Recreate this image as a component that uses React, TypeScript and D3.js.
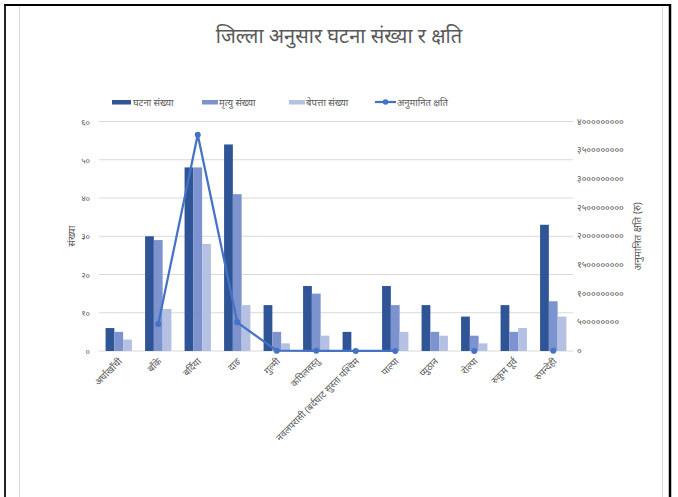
import * as d3 from "d3";

const districts = [
  "अर्घाखाँची",
  "बाँके",
  "बर्दिया",
  "दाङ",
  "गुल्मी",
  "कपिलवस्तु",
  "नवलपरासी (बर्दघाट सुस्ता पश्चिम",
  "पाल्पा",
  "प्युठान",
  "रोल्पा",
  "रुकुम पूर्व",
  "रुपन्देही",
];
const incidents = [6, 30, 48, 54, 12, 17, 5, 17, 12, 9, 12, 33];
const deaths = [5, 29, 48, 41, 5, 15, 0, 12, 5, 4, 5, 13];
const missing = [3, 11, 28, 12, 2, 4, 0, 5, 4, 2, 6, 9];
const loss: (number | null)[] = [
  null, 470000000, 3770000000, 500000000, 6000000, 3000000, 1000000, 2000000, null, 1500000, null, 4000000,
];
const seriesNames = ["घटना संख्या", "मृत्यु संख्या", "बेपत्ता संख्या"];
const lineName = "अनुमानित क्षति";
const leftTicks = [0, 10, 20, 30, 40, 50, 60];
const rightTicks = [0, 500000000, 1000000000, 1500000000, 2000000000, 2500000000, 3000000000, 3500000000, 4000000000];

const COLORS = ["#2F5597", "#7C93CF", "#B4C1E2"];
const LINE = "#4472C4";
const TXT = "#595959";
const FONT = "'Noto Sans', sans-serif";

const W = 678;
const H = 497;
const plot = { left: 99, right: 573, top: 121.5, bottom: 351 };

const toDev = (s: string) => s.replace(/[0-9]/g, (c) => "०१२३४५६७८९"[+c]);

export default function App() {
  const x = d3.scaleBand<string>().domain(districts).range([plot.left, plot.right]).paddingInner(0).paddingOuter(0);
  const group = (x.bandwidth() * 3) / 4.5;
  const xs = d3.scaleBand<number>().domain([0, 1, 2]).range([0, group]);
  const y = d3.scaleLinear().domain([0, 60]).range([plot.bottom, plot.top]);
  const yR = d3.scaleLinear().domain([0, 4000000000]).range([plot.bottom, plot.top]);
  const cx = (d: string) => (x(d) ?? 0) + x.bandwidth() / 2;

  const line = d3
    .line<number | null>()
    .defined((d) => d != null)
    .x((_, i) => cx(districts[i]))
    .y((d) => yR(d as number));

  const bars = [incidents, deaths, missing];
  const legendX = [112, 202, 289];

  return (
    <svg
      width={W}
      height={H}
      style={{ position: "absolute", left: 0, top: 0, background: "#fff" }}
      fontFamily={FONT}
    >
      {/* outer frame */}
      <line x1={5} x2={5} y1={5} y2={H} stroke="#222" strokeWidth={2} />
      <line x1={4} x2={671} y1={5} y2={5} stroke="#000" strokeWidth={2} />
      <line x1={670} x2={670} y1={4} y2={H} stroke="#000" strokeWidth={2.5} />
      <line x1={19.5} x2={19.5} y1={6} y2={H} stroke="#d9d9d9" strokeWidth={1} />
      <line x1={662.5} x2={662.5} y1={6} y2={H} stroke="#d9d9d9" strokeWidth={1} />

      <text x={339} y={43} textAnchor="middle" fontSize={20} fill={TXT}>
        जिल्ला अनुसार घटना संख्या र क्षति
      </text>

      {/* legend */}
      {seriesNames.map((n, i) => (
        <g key={n}>
          <rect x={legendX[i]} y={100} width={i === 0 ? 19 : 16} height={4.5} fill={COLORS[i]} />
          <text x={legendX[i] + (i === 0 ? 21 : 17)} y={105.5} fontSize={9.5} fill={TXT}>
            {n}
          </text>
        </g>
      ))}
      <line x1={375} x2={396} y1={102} y2={102} stroke={LINE} strokeWidth={2.25} />
      <circle cx={385.5} cy={102} r={2.8} fill={LINE} />
      <text x={397} y={105.5} fontSize={9.5} fill={TXT}>
        {lineName}
      </text>

      {/* gridlines */}
      {leftTicks.map((t) => (
        <line key={t} x1={plot.left} x2={plot.right} y1={y(t)} y2={y(t)} stroke="#d9d9d9" strokeWidth={1} />
      ))}
      {leftTicks.map((t) => (
        <text key={t} x={90} y={y(t) + 3} textAnchor="end" fontSize={8.5} fill={TXT}>
          {toDev(String(t))}
        </text>
      ))}
      {rightTicks.map((t) => (
        <text key={t} x={577} y={yR(t) + 3} fontSize={9} fill={TXT}>
          {toDev(String(t))}
        </text>
      ))}

      <text transform={`translate(75,${(plot.top + plot.bottom) / 2}) rotate(-90)`} textAnchor="middle" fontSize={10} fill={TXT}>
        संख्या
      </text>
      <text transform={`translate(641,${(plot.top + plot.bottom) / 2}) rotate(-90)`} textAnchor="middle" fontSize={10} fill={TXT}>
        अनुमानित क्षति (रु)
      </text>

      {/* bars */}
      {bars.map((vals, s) =>
        vals.map((v, i) => (
          <rect
            key={`${s}-${i}`}
            x={cx(districts[i]) - group / 2 + (xs(s) ?? 0)}
            y={y(v)}
            width={xs.bandwidth()}
            height={plot.bottom - y(v)}
            fill={COLORS[s]}
          />
        )),
      )}

      {/* loss line */}
      <path d={line(loss) ?? ""} fill="none" stroke={LINE} strokeWidth={2.25} strokeLinejoin="round" />
      {loss.map((v, i) =>
        v == null ? null : <circle key={i} cx={cx(districts[i])} cy={yR(v)} r={3} fill={LINE} />,
      )}

      {/* category labels */}
      {districts.map((d) => (
        <text
          key={d}
          transform={`translate(${cx(d) + 4},${plot.bottom + 11}) rotate(-45)`}
          textAnchor="end"
          fontSize={9.5}
          fill={TXT}
        >
          {d}
        </text>
      ))}
    </svg>
  );
}
